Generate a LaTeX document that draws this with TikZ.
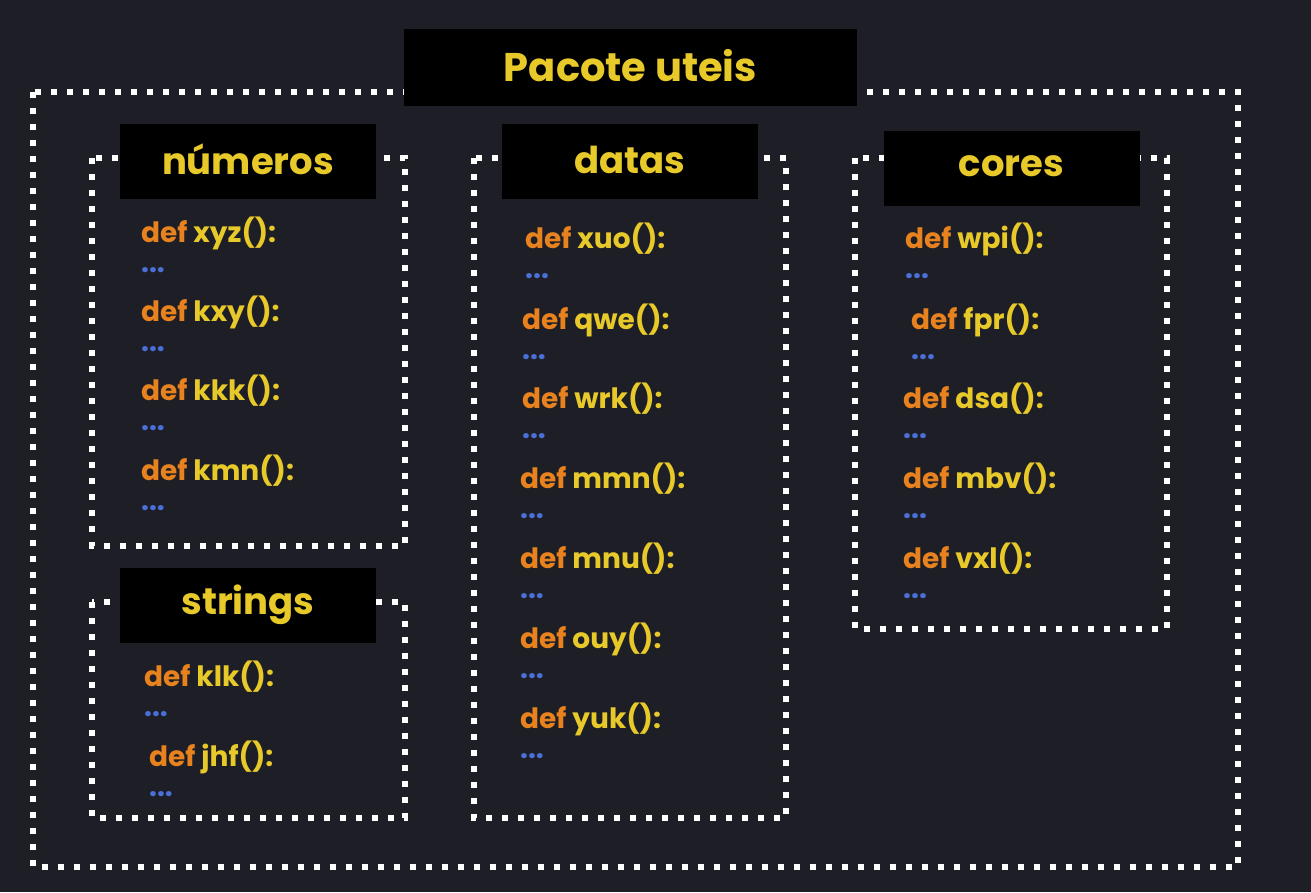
\documentclass[tikz,border=0pt]{standalone}
\usepackage{fontspec}
\setmainfont{Poppins}
\definecolor{bg}{HTML}{1E1F26}
\definecolor{ylw}{HTML}{E8C92A}
\definecolor{orng}{HTML}{E8821E}
\definecolor{dblue}{HTML}{4A6FD8}
\newcommand\fnline[4]{%
  \node[fntext] (#1) at (#2,#3+10) {{\color{orng}def} {\color{ylw}#4}};
  \node[fntext, text=dblue] (#1d) at (#2,#3+40) {...};
}
\begin{document}
\begin{tikzpicture}[x=1pt,y=-1pt,
  dotbox/.style={draw=white, line width=6pt, dash pattern=on 6pt off 10pt},
  labelbox/.style={fill=black, minimum width=256pt, minimum height=75pt, inner sep=0pt,
    text=ylw, font=\fontsize{37}{40}\selectfont\bfseries},
  fntext/.style={anchor=base west, inner sep=0pt, font=\fontsize{28}{30}\selectfont\bfseries}]
\useasboundingbox (0,0) rectangle (1311,892);
\fill[bg] (0,0) rectangle (1311,892);
% outer
\draw[dotbox] (33,92) rectangle (1238,867);
\node[labelbox, minimum width=453pt, minimum height=77pt, font=\fontsize{40}{44}\selectfont\bfseries] (title) at (630.5,67.5) {\raisebox{5pt}{Pacote uteis}};
% inner boxes
\draw[dotbox] (92,158) rectangle (405,546);
\draw[dotbox] (92,602) rectangle (405,818);
\draw[dotbox] (474,158) rectangle (786,818);
\draw[dotbox] (855,158) rectangle (1167,629);
\node[labelbox] (num) at (248,161.5) {\raisebox{4pt}{números}};
\node[labelbox] (str) at (248,605) {\raisebox{3pt}{strings}};
\node[labelbox] (dat) at (630,161.5) {\raisebox{4pt}{datas}};
\node[labelbox] (cor) at (1011.5,168.5) {\raisebox{4pt}{cores}};
% numeros
\fnline{n1}{141}{232}{xyz():}
\fnline{n2}{141}{311}{kxy():}
\fnline{n3}{141}{390}{kkk():}
\fnline{n4}{141}{470}{kmn():}
% strings
\fnline{s1}{144}{676}{klk():}
\fnline{s2}{149}{756}{jhf():}
% datas
\fnline{d1}{525}{238}{xuo():}
\fnline{d2}{522}{319}{qwe():}
\fnline{d3}{522}{398}{wrk():}
\fnline{d4}{520}{478}{mmn():}
\fnline{d5}{520}{558}{mnu():}
\fnline{d6}{520}{638}{ouy():}
\fnline{d7}{520}{718}{yuk():}
% cores
\fnline{c1}{905}{238}{wpi():}
\fnline{c2}{911}{319}{fpr():}
\fnline{c3}{903}{398}{dsa():}
\fnline{c4}{903}{478}{mbv():}
\fnline{c5}{903}{558}{vxl():}
\end{tikzpicture}
\end{document}
